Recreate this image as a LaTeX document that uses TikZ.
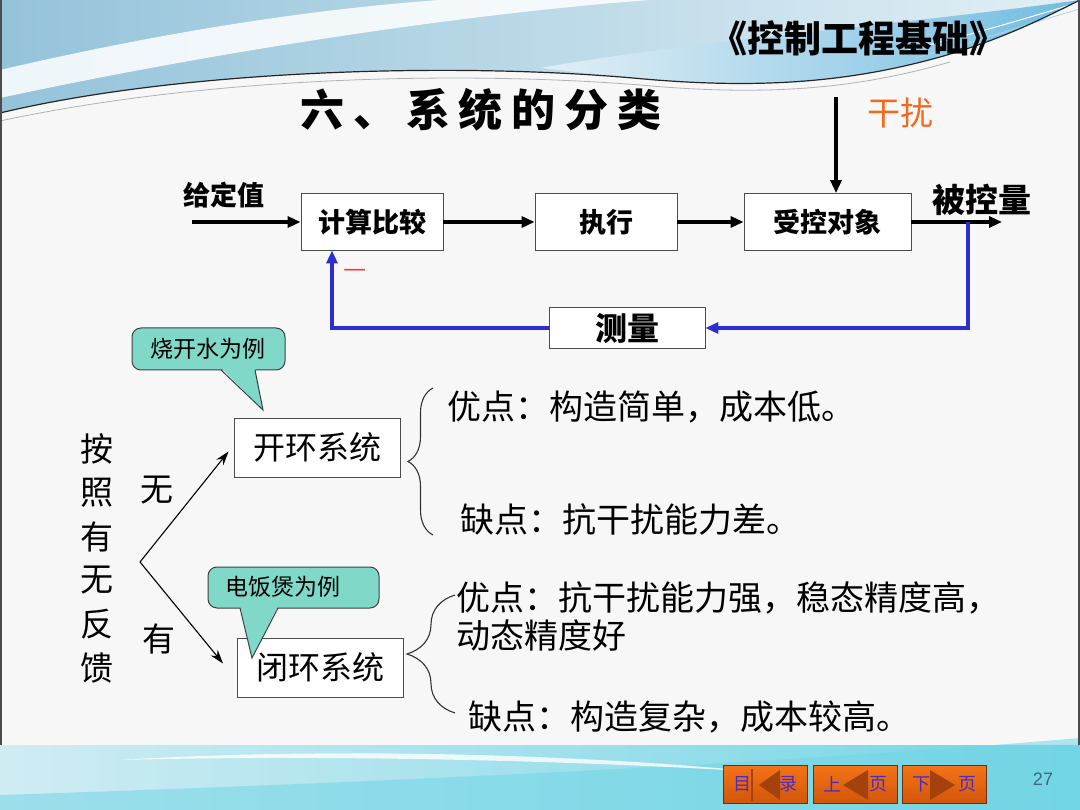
\documentclass[tikz,border=0pt]{standalone}
\usepackage{fontspec}
\setmainfont{Liberation Sans}
\newfontfamily\hei{Noto Sans CJK SC}
\usetikzlibrary{arrows.meta,decorations.pathreplacing}

\definecolor{fbblue}{HTML}{2E2ECC}
\definecolor{distorange}{HTML}{F26A1B}
\definecolor{tealnote}{HTML}{7FD8C8}
\definecolor{slidebg}{HTML}{F7F7F7}
\definecolor{navorange}{HTML}{F57418}
\definecolor{navdark}{HTML}{D2560A}
\definecolor{navbrown}{HTML}{A3420C}
\definecolor{navtext}{HTML}{4A2BC4}
\definecolor{pagegray}{HTML}{3E6680}
\definecolor{skyleft}{HTML}{94C3DA}
\definecolor{skyright}{HTML}{E2EFF5}
\definecolor{skyband}{HTML}{72BCE2}
\definecolor{seaL}{HTML}{D0ECF3}
\definecolor{seaR}{HTML}{72D5E5}

\newcommand{\fsz}[1]{\fontsize{#1}{#1}\selectfont}

\tikzset{
  block/.style={draw=black!70, fill=white, line width=0.9pt, minimum height=57pt, inner sep=0pt, font=\hei\bfseries\fsz{27}},
  sysbox/.style={draw=black!70, fill=white, line width=0.9pt, minimum width=166pt, minimum height=59pt, inner sep=0pt, font=\hei\fsz{32}},
  sig/.style={-{Triangle[length=13pt,width=11pt]}, line width=3.2pt},
  fbline/.style={sig, draw=fbblue, line width=3.4pt},
  branch/.style={-{Stealth[length=14pt,width=9pt]}, line width=1.1pt},
  note/.style={anchor=west, inner sep=0pt, font=\hei\fsz{34}},
  bubble/.style={draw=black!75, fill=tealnote, line width=1pt},
  bracket/.style={decorate, decoration={brace, amplitude=#1}, line width=1.1pt, draw=black!80},
  navkey/.style={font=\hei\fsz{18}, text=navtext, inner sep=0pt},
}

\begin{document}
\begin{tikzpicture}[x=1pt, y=-1pt]
\useasboundingbox (0,0) rectangle (1080,810);
\fill[slidebg] (0,0) rectangle (1080,810);

% header waves
\shade[left color=skyleft, right color=skyright] (0,0) -- (1080,0) .. controls (1040,20) and (1000,40) .. (940,57)
  .. controls (850,82) and (760,90) .. (633,78) .. controls (450,62) and (180,70) .. (0,113) -- cycle;
\fill[white, opacity=0.85] (0,70) .. controls (150,35) and (300,10) .. (440,0) -- (650,0)
  .. controls (450,15) and (200,55) .. (0,98) -- cycle;
\shade[left color=skyright, right color=skyband] (540,68) .. controls (700,40) and (900,25) .. (1080,0)
  .. controls (1040,20) and (1000,40) .. (940,57) .. controls (850,82) and (760,90) .. (633,78)
  .. controls (600,75) and (570,71) .. (540,68) -- cycle;
\draw[white, line width=1pt] (900,52) .. controls (980,33) and (1040,14) .. (1080,2);
\draw[skyband!60, line width=0.8pt] (915,58) .. controls (990,38) and (1040,20) .. (1080,9);
\draw[black!85, line width=1.2pt] (0,113) .. controls (180,70) and (450,62) .. (633,78)
  .. controls (760,90) and (850,82) .. (940,57) .. controls (1000,40) and (1040,20) .. (1080,0);
\draw[black!30, line width=0.8pt] (0,121) .. controls (200,78) and (450,70) .. (640,85)
  .. controls (770,97) and (860,88) .. (950,62);

% footer waves
\shade[left color=seaL, right color=seaR] (0,745) rectangle (1080,810);
\fill[seaR, opacity=0.55] (0,810) -- (0,795) .. controls (400,782) and (800,762) .. (1080,738) -- (1080,810) -- cycle;
\fill[white, opacity=0.8] (120,760) .. controls (350,746) and (600,756) .. (760,772)
  .. controls (600,762) and (350,754) .. (120,760) -- cycle;
\draw[black!70, line width=2pt] (1,0) -- (1,745);
\draw[black!70, line width=2pt] (1079,0) -- (1079,745);

\node[font=\hei\bfseries\fsz{37}, anchor=east] (course) at (1010,38) {《控制工程基础》};
\node[font=\hei\bfseries\fsz{44}\addfontfeature{LetterSpace=20}] (section) at (481,110) {六、系统的分类};

% block diagram
\node[block, minimum width=142pt] (cmp) at (372,222) {计算比较};
\node[block, minimum width=142pt] (act) at (606,222) {执行};
\node[block, minimum width=167pt] (plant) at (827.5,222) {受控对象};
\node[block, minimum width=156pt, minimum height=41pt, font=\hei\bfseries\fsz{32}] (meas) at (627,328) {测量};

\coordinate (setin) at (192,222);
\coordinate (outend) at (1002,222);
\coordinate (disttop) at (836,97);
\coordinate (tap) at (968,222);
\coordinate (fbin) at (332,250.5);

\node[font=\hei\bfseries\fsz{27}] (setv) at (224,195) {给定值};
\node[font=\hei\bfseries\fsz{33}] (outv) at (982,200) {被控量};
\node[font=\hei\fsz{33}, text=distorange] (distv) at (900,113) {干扰};
\node[font=\hei\fsz{26}, text=red!80] (minus) at (355,273) {—};

\draw[sig] (setin) -- (cmp);
\draw[sig] (cmp) -- (act);
\draw[sig] (act) -- (plant);
\draw[sig] (plant) -- (outend);
\draw[sig] (disttop) -- (plant.north -| disttop);
\draw[fbline] (tap) |- (meas);
\draw[fbline] (meas) -| (fbin);

% classification
\foreach \ch [count=\i from 0] in {按,照,有,无,反,馈}
  \node[font=\hei\fsz{33}] (crit\i) at (97,{449+43.8*\i}) {\ch};
\node[font=\hei\fsz{33}] (nofb) at (157,490) {无};
\node[font=\hei\fsz{33}] (withfb) at (159,639) {有};

\node[sysbox] (open) at (317,447.5) {开环系统};
\node[sysbox] (closed) at (320.5,667.5) {闭环系统};

\coordinate (fork) at (140,562);
\draw[branch] (fork) -- ([xshift=-5pt,yshift=-4pt]open.west);
\draw[branch] (fork) -- ([xshift=-14pt,yshift=4pt]closed.west);

\draw[bracket=25pt] (433,535) -- (433,388);
\draw[bracket=48pt] (455,713) -- (455,595);

\node[note] (pro1) at (447,407) {优点：构造简单，成本低。};
\node[note] (con1) at (460,520) {缺点：抗干扰能力差。};
\node[note] (pro2) at (456,598) {优点：抗干扰能力强，稳态精度高，};
\node[note] (pro2b) at (456,636) {动态精度好};
\node[note] (con2) at (468,717) {缺点：构造复杂，成本较高。};

% callouts
\draw[bubble, rounded corners=9pt] (132,328) rectangle (285,370);
\fill[tealnote] (221,368) -- (263,410) -- (255,368) -- cycle;
\draw[black!75, line width=1pt] (221,370) -- (263,410) -- (255,370);
\node[font=\hei\fsz{23}] (boil) at (208,349) {烧开水为例};

\draw[bubble, rounded corners=9pt] (208,567) rectangle (379,608);
\fill[tealnote] (240,606) -- (252,658) -- (278,606) -- cycle;
\draw[black!75, line width=1pt] (240,608) -- (252,658) -- (278,608);
\node[font=\hei\fsz{23}] (cooker) at (283,587) {电饭煲为例};

% navigation keys
\foreach \bx/\lt/\rt/\tipx/\basex [count=\k] in {723/目/录/36/57, 813/上/页/30/55, 902/下/页/53/28} {
  \shade[top color=navorange, bottom color=navdark, draw=navbrown!70!black, line width=0.6pt]
    (\bx,765) rectangle (\bx+84,803);
  \fill[navbrown] (\bx+\basex,770) -- (\bx+\tipx,785) -- (\bx+\basex,800) -- cycle;
  \node[navkey] (navl\k) at (\bx+19,784) {\lt};
  \node[navkey] (navr\k) at (\bx+65,784) {\rt};
}
\draw[navbrown, line width=2pt] (752,769) -- (752,801);
\node[font=\fsz{18}, text=pagegray] (pageno) at (1043,779) {27};

\end{tikzpicture}
\end{document}
